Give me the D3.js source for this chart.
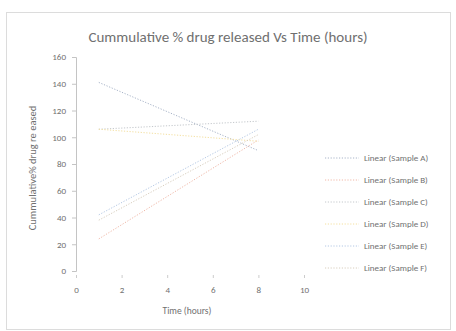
<!DOCTYPE html>
<html>
<head>
<meta charset="utf-8">
<script src="https://cdn.jsdelivr.net/npm/d3@7"></script>
<style>
  body { margin:0; background:#fff; }
  text { font-family: Carlito, "Liberation Sans", "DejaVu Sans", sans-serif; }
</style>
</head>
<body>
<svg id="chart" width="456" height="331"></svg>
<script>
// ---- data ----
const seriesNames = ["Linear (Sample A)","Linear (Sample B)","Linear (Sample C)","Linear (Sample D)","Linear (Sample E)","Linear (Sample F)"];
const startX = [1, 1, 1, 1, 1, 1];
const endX   = [8, 8, 8, 8, 8, 8];
const startY = [141, 24, 106, 106, 42, 38];
const endY   = [90, 98, 112, 97, 106, 102];
const colors = ["#a8b4c8","#f0b8a8","#c4c8cc","#f4e0a0","#b4c8e4","#d8cebe"];
const xTicks = [0, 2, 4, 6, 8, 10];
const yTicks = [0, 20, 40, 60, 80, 100, 120, 140, 160];

const svg = d3.select("#chart");

// outer chart frame
svg.append("rect").attr("x",6.5).attr("y",12.5).attr("width",444).attr("height",317)
  .attr("fill","#fff").attr("stroke","#dcdcdc");

// title
svg.append("text").attr("x",228).attr("y",42).attr("text-anchor","middle")
  .attr("font-size",15).attr("fill","#707070")
  .text("Cummulative % drug released Vs Time (hours)");

const x = d3.scaleLinear().domain([0,10]).range([76,304]);
const y = d3.scaleLinear().domain([0,160]).range([271,57]);

// y axis
const yAx = svg.append("g").attr("transform","translate(76,0)")
  .call(d3.axisLeft(y).tickValues(yTicks).tickSize(4).tickPadding(6));
yAx.select(".domain").attr("stroke","#c4c4c4");
yAx.selectAll(".tick line").attr("stroke","#c4c4c4");
yAx.selectAll("text").attr("font-size",9).attr("fill","#707070");

// x axis (ticks only, no visible baseline)
const xAx = svg.append("g").attr("transform","translate(0,275)")
  .call(d3.axisBottom(x).tickValues(xTicks).tickSize(3).tickPadding(9));
xAx.select(".domain").remove();
xAx.selectAll(".tick line").attr("stroke","#cccccc");
xAx.selectAll("text").attr("font-size",9).attr("fill","#707070");

// axis titles
svg.append("text").attr("transform","translate(36,168) rotate(-90)")
  .attr("text-anchor","middle").attr("font-size",10.5).attr("fill","#707070")
  .text("Cummulative% drug re eased");
svg.append("text").attr("x",187).attr("y",314).attr("text-anchor","middle")
  .attr("font-size",9.5).attr("fill","#707070").text("Time (hours)");

// trend lines
const lines = seriesNames.map((n,i)=>({name:n, color:colors[i],
  pts:[[startX[i],startY[i]],[endX[i],endY[i]]]}));
const line = d3.line().x(d=>x(d[0])).y(d=>y(d[1]));
svg.append("g").selectAll("path").data(lines).join("path")
  .attr("d", d=>line(d.pts))
  .attr("fill","none").attr("stroke", d=>d.color)
  .attr("stroke-width",1).attr("stroke-dasharray","1.2,1.6");

// legend
const leg = svg.append("g").selectAll("g").data(lines).join("g")
  .attr("transform",(d,i)=>`translate(325,${158 + i*22})`);
leg.append("line").attr("x1",0).attr("x2",34).attr("y1",0).attr("y2",0)
  .attr("stroke",d=>d.color).attr("stroke-width",1).attr("stroke-dasharray","1.2,1.6");
leg.append("text").attr("x",39).attr("y",3).attr("font-size",9).attr("fill","#707070")
  .text(d=>d.name);
</script>
</body>
</html>
